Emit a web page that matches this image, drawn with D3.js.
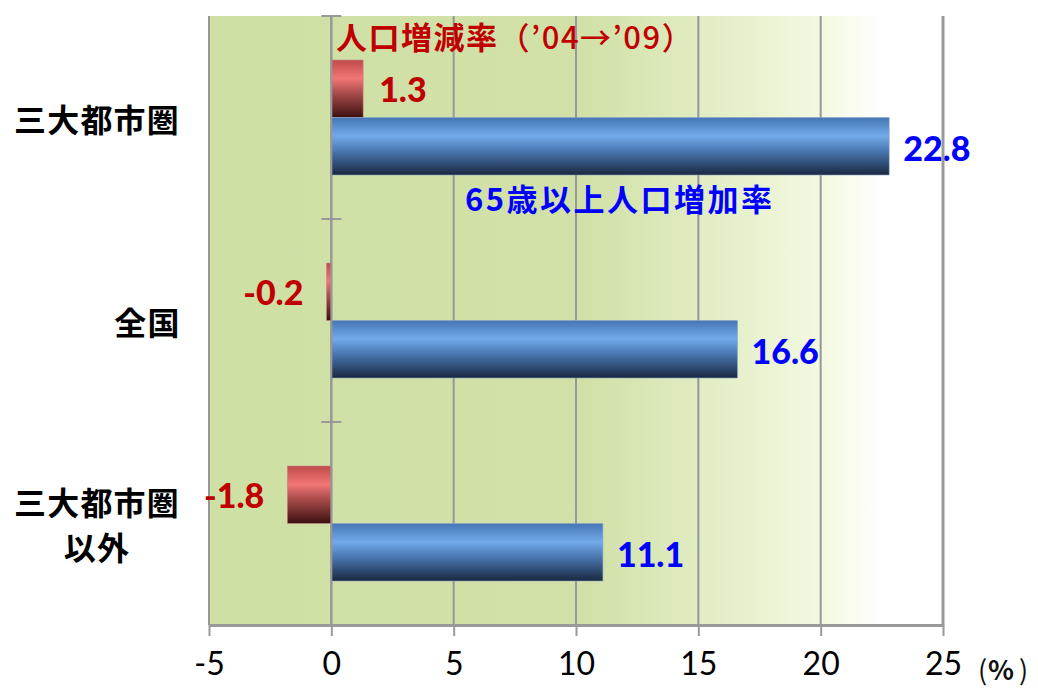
<!DOCTYPE html>
<html>
<head>
<meta charset="utf-8">
<script src="https://cdn.jsdelivr.net/npm/d3@7"></script>
<style>
  body { margin: 0; background: #fff; }
  svg { display: block; }
</style>
</head>
<body>
<svg id="chart" width="1038" height="688"></svg>
<script>
// data
const categories = ["三大都市圏", "全国", "三大都市圏以外"];
const categoryLines = [["三大都市圏"], ["全国"], ["三大都市圏", "以外"]];
const popChange = [1.3, -0.2, -1.8];        // 人口増減率('04→'09)
const elderlyGrowth = [22.8, 16.6, 11.1];   // 65歳以上人口増加率
const xTicks = [-5, 0, 5, 10, 15, 20, 25];

const svg = d3.select("#chart");
const plotLeft = 209, plotRight = 943, plotTop = 16, plotBottom = 625;
const jpFont = "'Noto Sans CJK JP', sans-serif";
const numFont = "Lato, 'Liberation Sans', sans-serif";

const x = d3.scaleLinear().domain([-5, 25]).range([plotLeft, plotRight]);
const y = d3.scaleBand().domain(categories).range([plotTop, plotBottom]).padding(0);
const sub = d3.scaleBand().domain(["pop", "elderly"])
    .range([0, y.bandwidth()]).paddingInner(0).paddingOuter(0.765);

const defs = svg.append("defs");

// background gradient (green -> white)
const bg = defs.append("linearGradient").attr("id", "bgGrad")
    .attr("x1", 0).attr("x2", 1).attr("y1", 0).attr("y2", 0);
[[0, "#cfe0a5"], [0.52, "#d1e1a8"], [0.72, "#e6f0cb"], [0.84, "#f4f9e3"], [0.92, "#ffffff"], [1, "#ffffff"]]
    .forEach(s => bg.append("stop").attr("offset", s[0]).attr("stop-color", s[1]));

function barGrad(id, stops) {
    const g = defs.append("linearGradient").attr("id", id)
        .attr("x1", 0).attr("x2", 0).attr("y1", 0).attr("y2", 1);
    stops.forEach(s => g.append("stop").attr("offset", s[0]).attr("stop-color", s[1]));
}
barGrad("redGrad", [[0, "#bf4b4b"], [0.32, "#f27676"], [0.55, "#b05050"], [1, "#3c1010"]]);
barGrad("blueGrad", [[0, "#4676b4"], [0.32, "#72aaea"], [0.58, "#4a78b2"], [1, "#1a2840"]]);

svg.append("rect")
    .attr("x", plotLeft).attr("y", plotTop)
    .attr("width", plotRight - plotLeft).attr("height", plotBottom - plotTop)
    .attr("fill", "url(#bgGrad)");

// vertical grid lines
svg.append("g").selectAll("line")
    .data(xTicks.slice(0, -1))
    .join("line")
    .attr("x1", d => x(d)).attr("x2", d => x(d))
    .attr("y1", plotTop).attr("y2", plotBottom)
    .attr("stroke", "#979797").attr("stroke-width", 2);

// x axis
const xAxis = svg.append("g")
    .attr("transform", `translate(0,${plotBottom})`)
    .call(d3.axisBottom(x).tickValues(xTicks).tickFormat(d => String(d))
        .tickSize(11).tickPadding(16).tickSizeOuter(0));
xAxis.select(".domain").attr("stroke", "#999").attr("stroke-width", 3);
xAxis.selectAll(".tick line").attr("stroke", "#999").attr("stroke-width", 2);
xAxis.selectAll(".tick text")
    .attr("fill", "#000")
    .style("font-family", numFont)
    .style("font-size", "32px");

// unit label
const unit = svg.append("text")
    .attr("y", 680)
    .style("font-family", jpFont).style("font-size", "27px")
    .attr("fill", "#111");
unit.append("tspan").attr("x", 978).text("(");
unit.append("tspan").attr("x", 988).style("font-weight", "bold").text("%");
unit.append("tspan").attr("x", 1019).text(")");

// category axis at zero (cross ticks at band edges)
const bounds = categories.map(c => y(c)).concat([plotBottom]);
svg.append("g").selectAll("line")
    .data(bounds)
    .join("line")
    .attr("x1", x(0) - 10).attr("x2", x(0) + 10)
    .attr("y1", d => d).attr("y2", d => d)
    .attr("stroke", "#999").attr("stroke-width", 2);

// bars
const groups = svg.append("g").selectAll("g")
    .data(categories)
    .join("g")
    .attr("transform", d => `translate(0,${y(d)})`);

groups.append("rect")
    .attr("x", (d, i) => x(Math.min(0, popChange[i])))
    .attr("y", sub("pop"))
    .attr("width", (d, i) => Math.abs(x(popChange[i]) - x(0)))
    .attr("height", sub.bandwidth())
    .attr("fill", "url(#redGrad)")
    .attr("stroke", "#c98a8a").attr("stroke-width", 0.6);

groups.append("rect")
    .attr("x", (d, i) => x(Math.min(0, elderlyGrowth[i])))
    .attr("y", sub("elderly"))
    .attr("width", (d, i) => Math.abs(x(elderlyGrowth[i]) - x(0)))
    .attr("height", sub.bandwidth())
    .attr("fill", "url(#blueGrad)")
    .attr("stroke", "#8aa6c8").attr("stroke-width", 0.6);

// value labels
groups.append("text")
    .attr("x", (d, i) => popChange[i] >= 0 ? x(popChange[i]) + 16 : x(popChange[i]) - 23)
    .attr("y", sub("pop") + sub.bandwidth() / 2)
    .attr("text-anchor", (d, i) => popChange[i] >= 0 ? "start" : "end")
    .attr("dominant-baseline", "central")
    .attr("fill", "#c00000")
    .style("font-family", numFont).style("font-weight", "900").style("font-size", "34px")
    .text((d, i) => popChange[i].toFixed(1));

groups.append("text")
    .attr("x", (d, i) => x(elderlyGrowth[i]) + 14)
    .attr("y", sub("elderly") + sub.bandwidth() / 2 + 1)
    .attr("text-anchor", "start")
    .attr("dominant-baseline", "central")
    .attr("fill", "#0000ff")
    .style("font-family", numFont).style("font-weight", "900").style("font-size", "34px")
    .text((d, i) => elderlyGrowth[i].toFixed(1));

// zero line on top of bars
svg.append("line")
    .attr("x1", x(0)).attr("x2", x(0)).attr("y1", plotTop).attr("y2", plotBottom)
    .attr("stroke", "#979797").attr("stroke-width", 2);

// right border (drawn over the labels, as in the original)
svg.append("line")
    .attr("x1", x(25)).attr("x2", x(25)).attr("y1", plotTop).attr("y2", plotBottom + 1)
    .attr("stroke", "#999").attr("stroke-width", 3);

// series labels
const redLabel = svg.append("text")
    .attr("x", 336).attr("y", 49)
    .attr("fill", "#c00000")
    .style("font-family", jpFont).style("font-size", "31px")
    .style("letter-spacing", "1.5px");
redLabel.append("tspan").style("font-weight", "bold").text("人口増減率");
redLabel.append("tspan").style("font-weight", "500").text("（’04→’09）");

svg.append("text")
    .attr("x", 465).attr("y", 211)
    .attr("fill", "#0000ff")
    .style("font-family", jpFont).style("font-weight", "bold").style("font-size", "31px")
    .style("letter-spacing", "2.5px")
    .text("65歳以上人口増加率");

// category labels
const catLabels = svg.append("g").selectAll("text")
    .data(categories)
    .join("text")
    .attr("text-anchor", "middle")
    .attr("fill", "#000")
    .style("font-family", jpFont).style("font-weight", "bold").style("font-size", "32px")
    .style("letter-spacing", "1.2px");

catLabels.each(function(d, i) {
    const lines = categoryLines[i];
    const el = d3.select(this);
    const cy = y(d) + sub("elderly");
    const lh = 45;
    const w = lines.length > 1 ? 168 : lines[0].length * 33.6;
    const cx = 181 - w / 2;
    lines.forEach((ln, k) => {
        el.append("tspan")
            .attr("x", cx)
            .attr("y", cy + (k - (lines.length - 1) / 2) * lh)
            .attr("dominant-baseline", "central")
            .text(ln);
    });
});
</script>
</body>
</html>
